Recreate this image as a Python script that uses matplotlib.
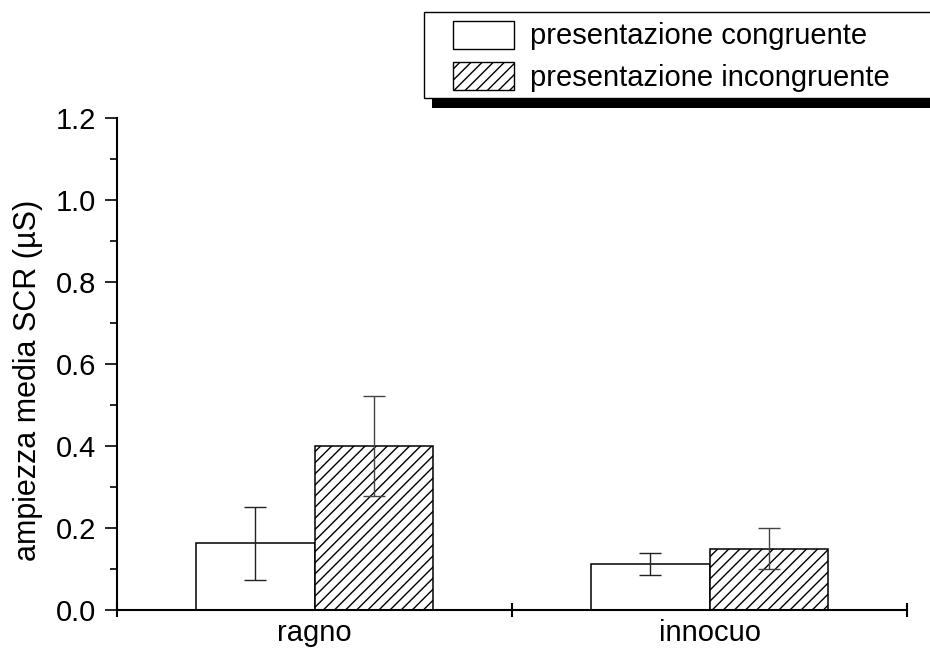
import matplotlib.pyplot as plt
from matplotlib.patches import Rectangle, Patch
import numpy as np

plt.rcParams['font.family'] = ['Liberation Sans', 'DejaVu Sans']
plt.rcParams['hatch.linewidth'] = 1.0

# Dati: ampiezza media SCR per tipo di stimolo
categorie = ['ragno', 'innocuo']
congruente = [0.163, 0.112]
err_congruente = [0.089, 0.027]
incongruente = [0.400, 0.149]
err_incongruente = [0.121, 0.050]
etichette = ['presentazione congruente', 'presentazione incongruente']

fs = 21
fig = plt.figure(figsize=(9.3, 6.5), dpi=100)
ax = fig.add_axes([117 / 930, 1 - 610 / 650, 790 / 930, 492 / 650])

x = np.arange(len(categorie)) + 0.5
w = 0.3

ax.bar(x - w / 2, congruente, w, facecolor='white', edgecolor='black', linewidth=1.1, zorder=2)
ax.bar(x + w / 2, incongruente, w, facecolor='white', edgecolor='black', linewidth=1.1,
       hatch='///', zorder=2)
ax.errorbar(x - w / 2, congruente, yerr=err_congruente, fmt='none', ecolor='#222',
            elinewidth=1, capsize=8, capthick=1, zorder=3)
ax.errorbar(x + w / 2, incongruente, yerr=err_incongruente, fmt='none', ecolor='#444',
            elinewidth=1, capsize=8, capthick=1, zorder=3)

# Assi
ax.set_xlim(0, 2)
ax.set_ylim(0, 1.2)
for lato in ['top', 'right']:
    ax.spines[lato].set_visible(False)
for lato in ['left', 'bottom']:
    ax.spines[lato].set_linewidth(1.5)
ax.spines['bottom'].set_zorder(4)

ax.set_yticks(np.arange(0, 1.21, 0.2))
ax.set_yticks(np.arange(0.1, 1.2, 0.2), minor=True)
ax.set_yticklabels([f'{v:.1f}' for v in np.arange(0, 1.21, 0.2)], fontsize=fs)
ax.tick_params(axis='y', which='major', direction='out', length=8.5, width=1.2, pad=6.5)
ax.tick_params(axis='y', which='minor', direction='out', length=5, width=1.2)

ax.set_xticks([0, 1, 2])
ax.set_xticklabels([])
ax.set_xticks(x, minor=True)
ax.set_xticklabels(categorie, minor=True, fontsize=fs)
ax.tick_params(axis='x', which='major', direction='inout', length=9.5, width=1.5)
ax.tick_params(axis='x', which='minor', length=0, pad=6.5)

ax.set_ylabel('ampiezza media SCR (µS)', fontsize=22)
ax.yaxis.set_label_coords(-0.094, 0.467)

# Riquadro della legenda con ombra
fig.patches.append(Rectangle((432 / 930, 1 - 108 / 650), 520 / 930, 88 / 650,
                             transform=fig.transFigure, facecolor='black',
                             edgecolor='none', zorder=5))
fig.patches.append(Rectangle((424 / 930, 1 - 98 / 650), 520 / 930, 86 / 650,
                             transform=fig.transFigure, facecolor='white',
                             edgecolor='black', linewidth=1, zorder=6))

maniglie = [Patch(facecolor='white', edgecolor='black', linewidth=1),
            Patch(facecolor='white', edgecolor='black', linewidth=1, hatch='///')]
leg = fig.legend(maniglie, etichette, loc='upper left',
                 bbox_to_anchor=(453 / 930, 1 - 20.5 / 650), frameon=False,
                 fontsize=fs, handlelength=2.09, handleheight=1.1,
                 handletextpad=0.55, labelspacing=0.39, borderpad=0, borderaxespad=0)
leg.set_zorder(7)

fig.savefig('out.png', dpi=100)
